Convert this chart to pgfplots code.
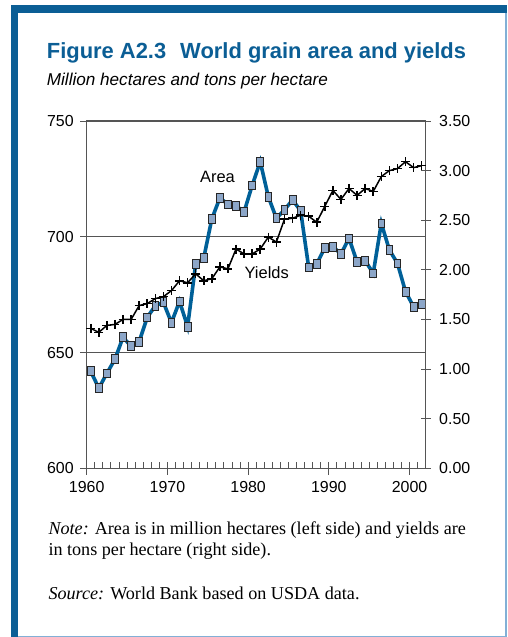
\documentclass[border=0pt]{standalone}
\usepackage{pgfplots}
\pgfplotsset{compat=1.18}
\usepackage{pgfplotstable}
\usepackage{fontspec}
\setmainfont{Liberation Sans}
\newfontfamily\notefont{Liberation Serif}

\definecolor{wbblue}{RGB}{11,94,149}
\definecolor{arealine}{RGB}{0,96,152}
\definecolor{wblight}{RGB}{130,176,214}
\definecolor{markfill}{RGB}{140,166,200}
\definecolor{axgray}{RGB}{85,85,85}

% area, million hectares (left scale)
\pgfplotstableread{
year area
1960.5 641.9
1961.5 634.6
1962.5 641.0
1963.5 647.1
1964.5 656.6
1965.5 652.7
1966.5 654.7
1967.5 665.2
1968.5 670.2
1969.5 671.7
1970.5 662.9
1971.5 672.1
1972.5 661.2
1973.5 688.1
1974.5 690.8
1975.5 707.7
1976.5 716.8
1977.5 714.0
1978.5 713.4
1979.5 710.7
1980.5 722.2
1981.5 732.4
1982.5 717.3
1983.5 708.0
1984.5 711.6
1985.5 715.9
1986.5 711.3
1987.5 686.8
1988.5 688.3
1989.5 695.3
1990.5 695.7
1991.5 692.6
1992.5 699.3
1993.5 689.1
1994.5 689.7
1995.5 684.2
1996.5 705.8
1997.5 694.3
1998.5 688.5
1999.5 676.3
2000.5 669.8
2001.5 671.0
}\areadata

% yields, tons per hectare (right scale)
\pgfplotstableread{
year yield
1960.5 1.41
1961.5 1.37
1962.5 1.44
1963.5 1.45
1964.5 1.50
1965.5 1.50
1966.5 1.64
1967.5 1.66
1968.5 1.71
1969.5 1.73
1970.5 1.79
1971.5 1.89
1972.5 1.87
1973.5 1.96
1974.5 1.89
1975.5 1.91
1976.5 2.03
1977.5 2.01
1978.5 2.21
1979.5 2.16
1980.5 2.16
1981.5 2.21
1982.5 2.33
1983.5 2.28
1984.5 2.51
1985.5 2.52
1986.5 2.55
1987.5 2.54
1988.5 2.48
1989.5 2.64
1990.5 2.80
1991.5 2.71
1992.5 2.82
1993.5 2.75
1994.5 2.82
1995.5 2.79
1996.5 2.94
1997.5 3.00
1998.5 3.02
1999.5 3.09
2000.5 3.03
2001.5 3.05
}\yielddata

\begin{document}
\begin{tikzpicture}
\path (0bp,0bp) rectangle (508bp,637bp);
% frame
\fill[wbblue] (10.7bp,0bp) rectangle (18.3bp,632bp);
\fill[wbblue] (10.7bp,624.3bp) rectangle (507bp,632bp);
\draw[wblight, line width=1.2bp] (506bp,624.3bp) -- (506bp,0.8bp) -- (18.3bp,0.8bp);

\node[anchor=base west, inner sep=0, text=wbblue,
  font=\fontsize{22}{26}\selectfont\bfseries] at (46.7bp,578.7bp)
  {Figure A2.3\hspace{14bp}World grain area and yields};
\node[anchor=base west, inner sep=0,
  font=\fontsize{17.2}{20}\selectfont\itshape] at (46.7bp,551bp)
  {Million hectares and tons per hectare};

\begin{axis}[
  at={(86.7bp,168.7bp)}, anchor=south west, scale only axis,
  width=339bp, height=347.3bp,
  xmin=1960, xmax=2002, ymin=600, ymax=750,
  xtick={1960,1970,...,2000},
  minor xtick={1960,...,2002},
  ytick={600,650,700,750},
  xtick pos=left, ytick pos=left,
  ymajorgrids, grid style={axgray, line width=0.9bp},
  axis line style={axgray, line width=1bp},
  tick style={axgray, line width=0.9bp},
  tick align=center, major tick length=13bp, minor tick length=6.6bp,
  minor x tick style={yshift=3.3bp},
  ticklabel style={font=\fontsize{16}{19}\selectfont},
  xticklabel style={yshift=-3bp},
  yticklabel style={xshift=-3bp},
  /pgf/number format/assume math mode=true,
  /pgf/number format/1000 sep={},
  clip=false,
]
\addplot[arealine, line width=3.6bp, mark=square*, mark size=3.4bp,
  mark options={fill=markfill, draw=black!85, line width=0.8bp, yscale=1.3, solid}]
  table[x=year, y=area] {\areadata};
\node[anchor=base, inner sep=0, font=\fontsize{16.5}{20}\selectfont]
  at (axis cs:1976.2,723.3) {Area};
\node[anchor=base, inner sep=0, font=\fontsize{16.5}{20}\selectfont]
  at (axis cs:1982.3,681.8) {Yields};
\end{axis}

\begin{axis}[
  at={(86.7bp,168.7bp)}, anchor=south west, scale only axis,
  width=339bp, height=347.3bp,
  xmin=1960, xmax=2002, ymin=0, ymax=3.5,
  axis x line=none, axis y line*=right,
  ytick={0,0.5,1,1.5,2,2.5,3,3.5},
  axis line style={axgray, line width=1bp},
  tick style={axgray, line width=0.9bp},
  tick align=center, major tick length=10bp,
  ticklabel style={font=\fontsize{16}{19}\selectfont},
  yticklabel style={xshift=5bp, /pgf/number format/.cd, fixed, fixed zerofill, precision=2},
  /pgf/number format/assume math mode=true,
  clip=false,
]
\addplot[black, line width=1.5bp, mark=+, mark size=4.5bp,
  mark options={line width=1.6bp}]
  table[x=year, y=yield] {\yielddata};
\end{axis}

\node[anchor=base west, inner sep=0, font=\notefont\fontsize{18.2}{20}\selectfont]
  at (48.3bp,102bp) {\textit{Note:} Area is in million hectares (left side) and yields are};
\node[anchor=base west, inner sep=0, font=\notefont\fontsize{18.2}{20}\selectfont]
  at (48.3bp,81.3bp) {in tons per hectare (right side).};
\node[anchor=base west, inner sep=0, font=\notefont\fontsize{18.2}{20}\selectfont]
  at (48.3bp,38bp) {\textit{Source:} World Bank based on USDA data.};
\end{tikzpicture}
\end{document}
